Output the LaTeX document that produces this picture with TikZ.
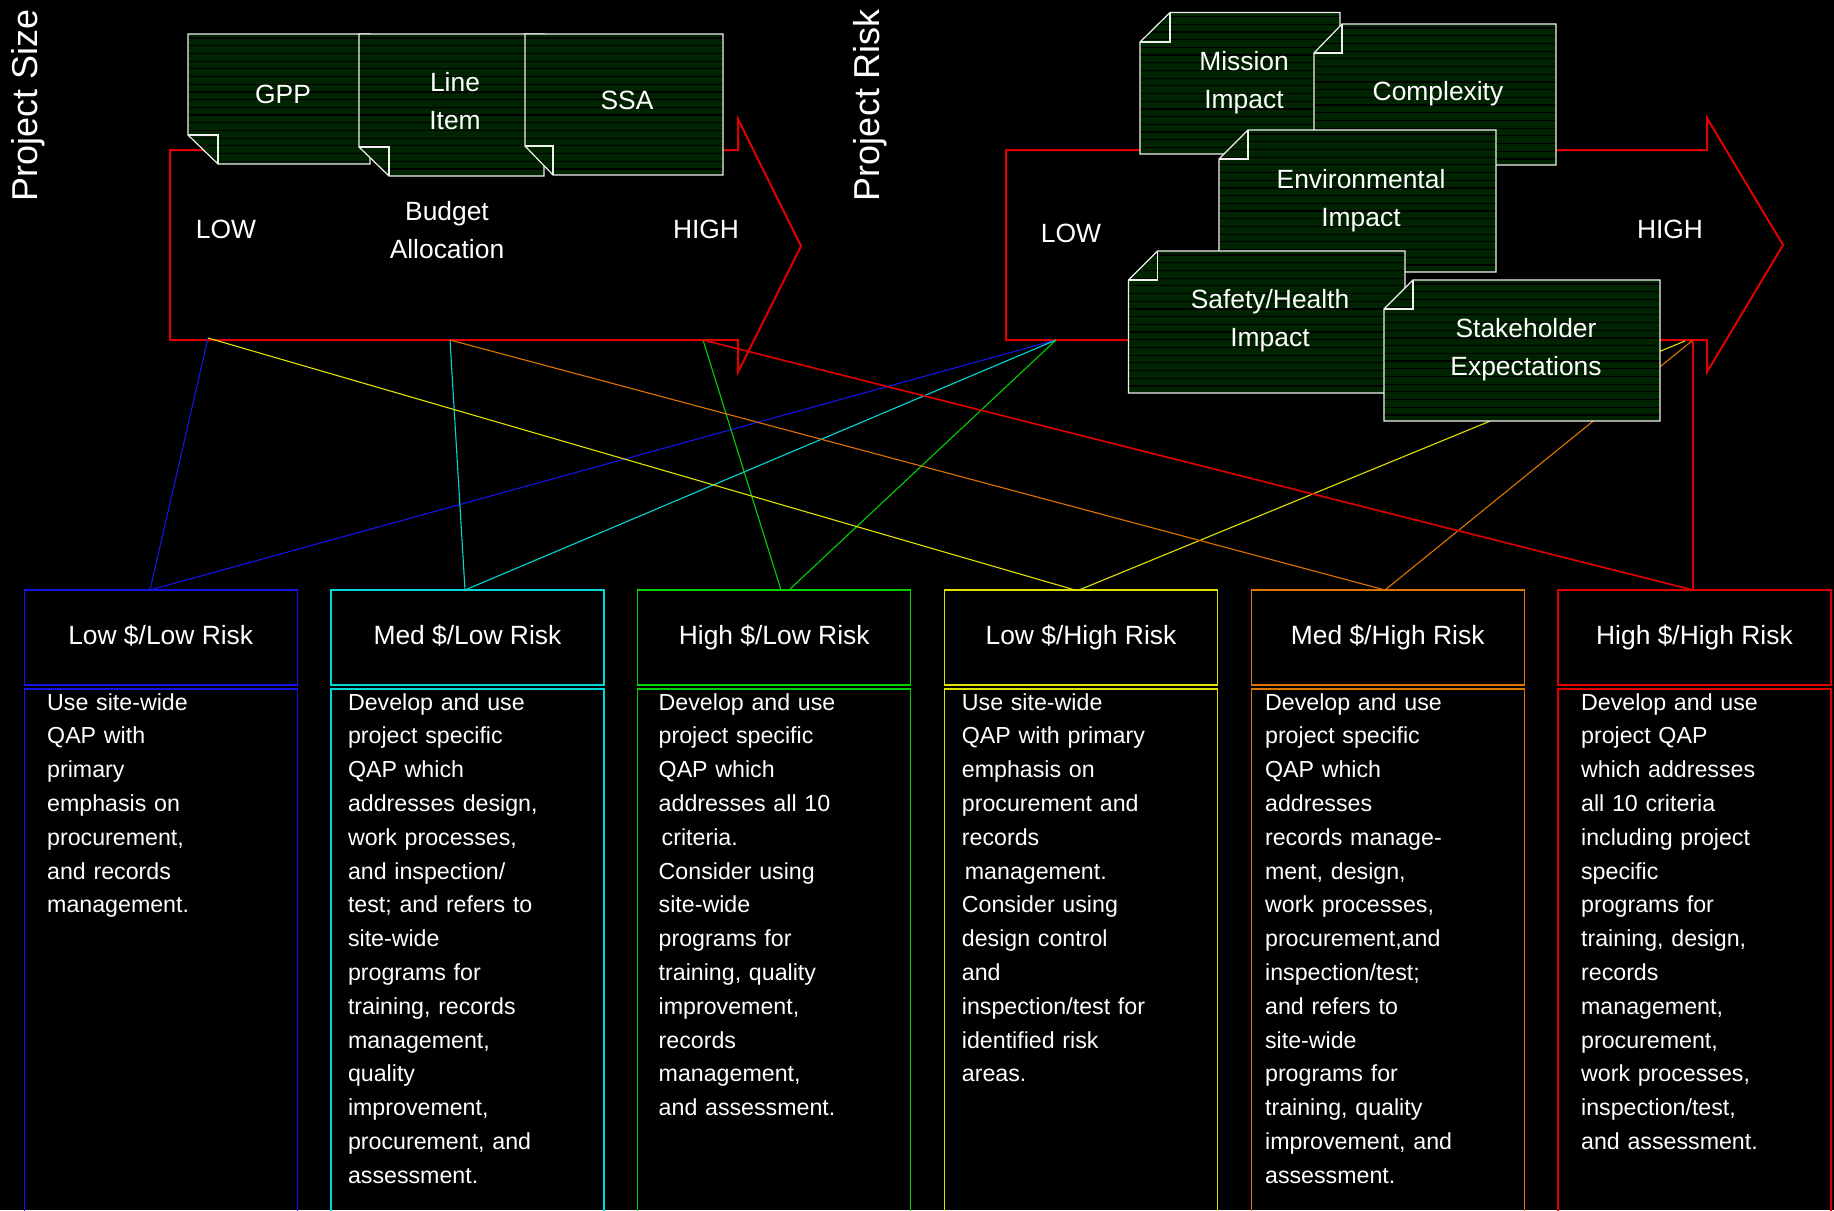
\documentclass[tikz,border=0pt]{standalone}
\usepackage{fontspec}
\setmainfont{Liberation Sans}
\usetikzlibrary{calc}
\definecolor{notefill}{RGB}{0,36,0}
\definecolor{edgecol}{RGB}{240,240,240}
\definecolor{cblue}{RGB}{20,20,230}
\definecolor{ccyan}{RGB}{0,215,215}
\definecolor{cgreen}{RGB}{0,210,0}
\definecolor{cyellow}{RGB}{225,225,0}
\definecolor{corange}{RGB}{225,115,0}
\definecolor{cred}{RGB}{225,0,0}

\tikzset{
  stripe/.style={black,line width=0.6pt},
  noteedge/.style={edgecol,line width=0.6pt,line join=miter},
  bigarrow/.style={cred,line width=1pt,line join=miter},
  conn/.style={line width=0.55pt},
  connthick/.style={line width=0.8pt},
  lbl/.style={text=white,inner sep=0pt,align=center,text depth=0pt,font=\fontsize{13.2}{19}\selectfont},
  axislbl/.style={text=white,inner sep=0pt,rotate=90,font=\fontsize{18}{20}\selectfont},
  hdr/.style={text=white,inner sep=0pt,minimum width=136.5pt,minimum height=47.5pt,
     line width=0.65pt,text height=6.95pt,text depth=0pt,font=\fontsize{13.2}{19}\selectfont},
  bodytxt/.style={text=white,inner sep=0pt,anchor=base west,text width=132pt,align=left,
     font=\fontsize{11.6}{16.9}\selectfont},
  boxline/.style={line width=0.65pt}
}

% note with folded corner at bottom-left: x1,y1,x2,y2,foldw,foldh
\newcommand\noteBL[6]{%
  \begin{scope}
    \clip (#1,#2) -- (#3,#2) -- (#3,#4) -- ({#1+#5},#4) -- (#1,{#4-#6}) -- cycle;
    \fill[notefill] (#1,#2) rectangle (#3,#4);
    \pgfmathsetmacro\nsA{#2+4}\pgfmathsetmacro\nsB{#2+4+7.7}%
    \foreach \yy in {\nsA,\nsB,...,#4} {\draw[stripe] (#1,\yy) -- (#3,\yy);}
  \end{scope}
  \draw[noteedge] (#1,#2) -- (#3,#2) -- (#3,#4) -- ({#1+#5},#4) -- (#1,{#4-#6}) -- cycle;
  \draw[noteedge] (#1,{#4-#6}) -- ({#1+#5},{#4-#6}) -- ({#1+#5},#4);
}
% note with folded corner at top-left
\newcommand\noteTL[6]{%
  \begin{scope}
    \clip ({#1+#5},#2) -- (#3,#2) -- (#3,#4) -- (#1,#4) -- (#1,{#2+#6}) -- cycle;
    \fill[notefill] (#1,#2) rectangle (#3,#4);
    \pgfmathsetmacro\nsA{#2+4}\pgfmathsetmacro\nsB{#2+4+7.7}%
    \foreach \yy in {\nsA,\nsB,...,#4} {\draw[stripe] (#1,\yy) -- (#3,\yy);}
  \end{scope}
  \draw[noteedge] ({#1+#5},#2) -- (#3,#2) -- (#3,#4) -- (#1,#4) -- (#1,{#2+#6}) -- cycle;
  \draw[noteedge] (#1,{#2+#6}) -- ({#1+#5},{#2+#6}) -- ({#1+#5},#2);
}

\begin{document}
\begin{tikzpicture}[x=0.5pt,y=-0.5pt]
\useasboundingbox (0,0) rectangle (1834,1210);
\fill[black] (0,0) rectangle (1834,1210);

% axis titles
\node[axislbl] (psize) at (28,105) {Project Size};
\node[axislbl] (prisk) at (870,105) {Project Risk};

% big arrows
\draw[bigarrow] (170,150) -- (738,150) -- (738,119) -- (801,246) -- (738,372) -- (738,340) -- (170,340) -- cycle;
\draw[bigarrow] (1006,150) -- (1707,150) -- (1707,118) -- (1783,245) -- (1707,372) -- (1707,340) -- (1006,340) -- cycle;

% connector end points
\coordinate (LA1) at (208,338);
\coordinate (LA2) at (450,340);
\coordinate (LA3) at (703,340);
\coordinate (RA1) at (1056,340);
\coordinate (RA2) at (1685,341);
\coordinate (RA3) at (1693,340);
\coordinate (B1t) at (150,590);
\coordinate (B2t) at (465,590);
\coordinate (B3a) at (781,590);
\coordinate (B3b) at (789,590);
\coordinate (B4a) at (1075,590);
\coordinate (B4b) at (1079,590);
\coordinate (B5t) at (1385,590);
\coordinate (B6t) at (1693,590);

% connectors
\draw[conn,cblue] (LA1) -- (B1t);
\draw[conn,cblue] (RA1) -- (B1t);
\draw[conn,ccyan] (LA2) -- (B2t);
\draw[conn,ccyan] (RA1) -- (B2t);
\draw[conn,cgreen] (LA3) -- (B3a);
\draw[conn,cgreen] (RA1) -- (B3b);
\draw[conn,cyellow] (LA1) -- (B4a);
\draw[conn,cyellow] (RA2) -- (B4b);
\draw[conn,corange] (LA2) -- (B5t);
\draw[conn,corange] (RA3) -- (B5t);
\draw[connthick,cred] (LA3) -- (B6t);
\draw[connthick,cred] (RA3) -- (B6t);

% left notes
\noteBL{188}{34}{370}{164}{30}{29}
\noteBL{359}{34}{544}{176}{30}{29}
\noteBL{525}{34}{723}{175}{28}{29}
\node[lbl] (gpp) at (283,94) {GPP};
\node[lbl] (line) at (455,100.5) {Line\\Item};
\node[lbl] (ssa) at (627,100) {SSA};

% right notes
\noteTL{1140}{12.5}{1340}{154}{30}{29.5}
\noteTL{1314}{24}{1556}{165}{28}{29}
\noteTL{1219}{130}{1496}{272}{29}{29}
\noteTL{1128.5}{251}{1405}{393}{29}{29}
\noteTL{1384}{280}{1660}{421}{29}{29}
\node[lbl] (mission) at (1244,80) {Mission\\Impact};
\node[lbl] (complex) at (1438,91) {Complexity};
\node[lbl] (env) at (1361,197.5) {Environmental\\Impact};
\node[lbl] (safety) at (1270,317.5) {Safety/Health\\Impact};
\node[lbl] (stake) at (1526,346.5) {Stakeholder\\Expectations};

% arrow labels
\node[lbl] (lowL) at (226,229) {LOW};
\node[lbl] (budget) at (447,229.5) {Budget\\Allocation};
\node[lbl] (highL) at (706,229) {HIGH};
\node[lbl] (lowR) at (1071,233) {LOW};
\node[lbl] (highR) at (1670,229) {HIGH};

% header boxes
\node[hdr,draw=cblue]   (h1) at (160.7,637.5)  {Low \$/Low Risk};
\node[hdr,draw=ccyan]   (h2) at (467.45,637.5) {Med \$/Low Risk};
\node[hdr,draw=cgreen]  (h3) at (774.2,637.5)  {High \$/Low Risk};
\node[hdr,draw=cyellow] (h4) at (1080.95,637.5) {Low \$/High Risk};
\node[hdr,draw=corange] (h5) at (1387.7,637.5) {Med \$/High Risk};
\node[hdr,draw=cred]    (h6) at (1694.45,637.5) {High \$/High Risk};

% body boxes (open at the bottom)
\foreach \i/\c in {0/cblue,1/ccyan,2/cgreen,3/cyellow,4/corange,5/cred}{
  \pgfmathsetmacro\bxl{24.2+306.75*\i}
  \pgfmathsetmacro\bxr{24.2+306.75*\i+273}
  \draw[boxline,\c] (\bxl,1214) -- (\bxl,689) -- (\bxr,689) -- (\bxr,1214);
}

% body texts
\node[bodytxt] (t1) at (46.8,710) {Use site-wide\\QAP with\\primary\\emphasis on\\procurement,\\and records\\management.};
\node[bodytxt] (t2) at (347.6,710) {Develop and use\\project specific\\QAP which\\addresses design,\\work processes,\\and inspection/\\test; and refers to\\site-wide\\programs for\\training, records\\management,\\quality\\improvement,\\procurement, and\\assessment.};
\node[bodytxt] (t3) at (658.3,710) {Develop and use\\project specific\\QAP which\\addresses all 10\\\hspace*{1.5pt}criteria.\\Consider using\\site-wide\\programs for\\training, quality\\improvement,\\records\\management,\\and assessment.};
\node[bodytxt] (t4) at (961.5,710) {Use site-wide\\QAP with primary\\emphasis on\\procurement and\\records\\\hspace*{1.5pt}management.\\Consider using\\design control\\and\\inspection/test for\\identified risk\\areas.};
\node[bodytxt] (t5) at (1264.7,710) {Develop and use\\project specific\\QAP which\\addresses\\records manage-\\ment, design,\\work processes,\\procurement,and\\inspection/test;\\and refers to\\site-wide\\programs for\\training, quality\\improvement, and\\assessment.};
\node[bodytxt] (t6) at (1580.7,710) {Develop and use\\project QAP\\which addresses\\all 10 criteria\\including project\\specific\\programs for\\training, design,\\records\\management,\\procurement,\\work processes,\\inspection/test,\\and assessment.};
\end{tikzpicture}
\end{document}
